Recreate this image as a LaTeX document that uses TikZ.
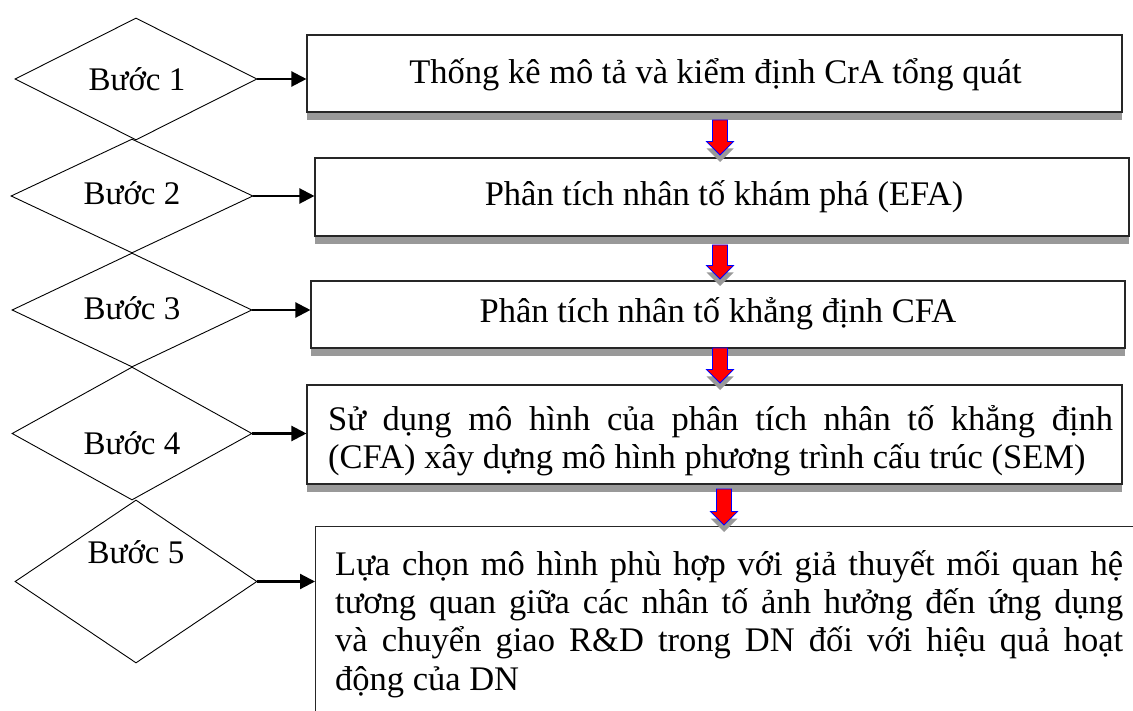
\documentclass[tikz,border=0pt]{standalone}
\usepackage{fontspec}
\setmainfont{Liberation Serif}
\usetikzlibrary{shapes.geometric,arrows.meta,calc}

\definecolor{shadowgray}{HTML}{999999}

\tikzset{
  stepbox/.style={draw=black!85, line width=1.1pt, fill=white, inner sep=0pt},
  stepdiamond/.style={shape=diamond, draw=black, line width=0.9pt, inner sep=0pt},
  steptext/.style={inner sep=0pt, font=\fontsize{34.5}{38.3}\selectfont},
  steplabel/.style={inner sep=0pt, font=\fontsize{33}{38}\selectfont},
  conn/.style={line width=2.2pt, -{Triangle[length=15pt,width=15pt]}},
}

% red block arrow with a grey drop shadow, from #1 (top of shaft) to #2 (tip)
\newcommand\flowarrow[2]{%
  \fill[shadowgray] ($(#1)+(-7.5,7)$) -- ($(#1)+(7.5,7)$) -- ($(#2)+(7.5,-6.5)$)
    -- ($(#2)+(13.5,-6.5)$) -- ($(#2)+(0,7)$) -- ($(#2)+(-13.5,-6.5)$)
    -- ($(#2)+(-7.5,-6.5)$) -- cycle;
  \filldraw[fill=red, draw=blue, line width=0.8pt]
    ($(#1)+(-7.5,0)$) -- ($(#1)+(7.5,0)$) -- ($(#2)+(7.5,-13.5)$)
    -- ($(#2)+(13.5,-13.5)$) -- (#2) -- ($(#2)+(-13.5,-13.5)$)
    -- ($(#2)+(-7.5,-13.5)$) -- cycle;}

% tall invisible strut fixing the height of a first text line
\newcommand\firststrut{\rule{0pt}{34pt}}

\begin{document}
\begin{tikzpicture}[x=1pt, y=-1pt]
\useasboundingbox (0,0) rectangle (1133,711);
\clip (0,0) rectangle (1133,711);

% step diamonds
\node[stepdiamond, minimum width=242, minimum height=122] (d1) at (136,79) {};
\node[stepdiamond, minimum width=242, minimum height=114] (d2) at (132,196) {};
\node[stepdiamond, minimum width=240, minimum height=114] (d3) at (132,310) {};
\node[stepdiamond, minimum width=240, minimum height=133] (d4) at (132,433.5) {};
\node[stepdiamond, minimum width=242, minimum height=163] (d5) at (136,581.5) {};

\node[steplabel] (l1) at (137,79) {Bước 1};
\node[steplabel] (l2) at (132,193) {Bước 2};
\node[steplabel] (l3) at (132,308) {Bước 3};
\node[steplabel] (l4) at (132,443) {Bước 4};
\node[steplabel] (l5) at (136,552) {Bước 5};

% shadows under the boxes
\fill[shadowgray] (307,112) rectangle (1122,120);
\fill[shadowgray] (315,236) rectangle (1129,244);
\fill[shadowgray] (311,348) rectangle (1125,356);
\fill[shadowgray] (307,484) rectangle (1122,492);

% step boxes
\node[stepbox, minimum width=815, minimum height=77] (b1) at (714.5,73.5) {};
\node[stepbox, minimum width=814, minimum height=78] (b2) at (722,197) {};
\node[stepbox, minimum width=814, minimum height=67] (b3) at (718,314.5) {};
\node[stepbox, minimum width=815, minimum height=99] (b4) at (714.5,434.5) {};
\node[stepbox, anchor=north west, minimum width=900, minimum height=300] (b5) at (315,526) {};

% box texts
\node[steptext] (t1) at (715.5,75) {Thống kê mô tả và kiểm định CrA tổng quát};
\node[steptext] (t2) at (724,197) {Phân tích nhân tố khám phá (EFA)};
\node[steptext] (t3) at (718,314) {Phân tích nhân tố khẳng định CFA};
\node[steptext, text width=785, align=justify, anchor=north west] (t4) at (328,396)
  {\firststrut Sử dụng mô hình của phân tích nhân tố khẳng định\linebreak
   (CFA) xây dựng mô hình phương trình cấu trúc (SEM)};
\node[steptext, text width=788, align=justify, anchor=north west] (t5) at (335,541)
  {\firststrut Lựa chọn mô hình phù hợp với giả thuyết mối quan hệ\linebreak
   tương quan giữa các nhân tố ảnh hưởng đến ứng dụng\linebreak
   và chuyển giao R\&D trong DN đối với hiệu quả hoạt\linebreak
   động của DN};

% arrows from each step to its box
\draw[conn] (d1.east) -- (d1.east -| b1.west);
\draw[conn] (d2.east) -- (d2.east -| b2.west);
\draw[conn] (d3.east) -- (d3.east -| b3.west);
\draw[conn] (d4.east) -- (d4.east -| b4.west);
\draw[conn] (d5.east) -- (d5.east -| b5.west);

% red arrows between consecutive boxes
\coordinate (a1s) at (720,120);  \coordinate (a1e) at (720,155);
\coordinate (a2s) at (720,245);  \coordinate (a2e) at (720,279);
\coordinate (a3s) at (720,348);  \coordinate (a3e) at (720,383);
\coordinate (a4s) at (724,489);  \coordinate (a4e) at (724,525);
\flowarrow{a1s}{a1e}
\flowarrow{a2s}{a2e}
\flowarrow{a3s}{a3e}
\flowarrow{a4s}{a4e}
\end{tikzpicture}
\end{document}
